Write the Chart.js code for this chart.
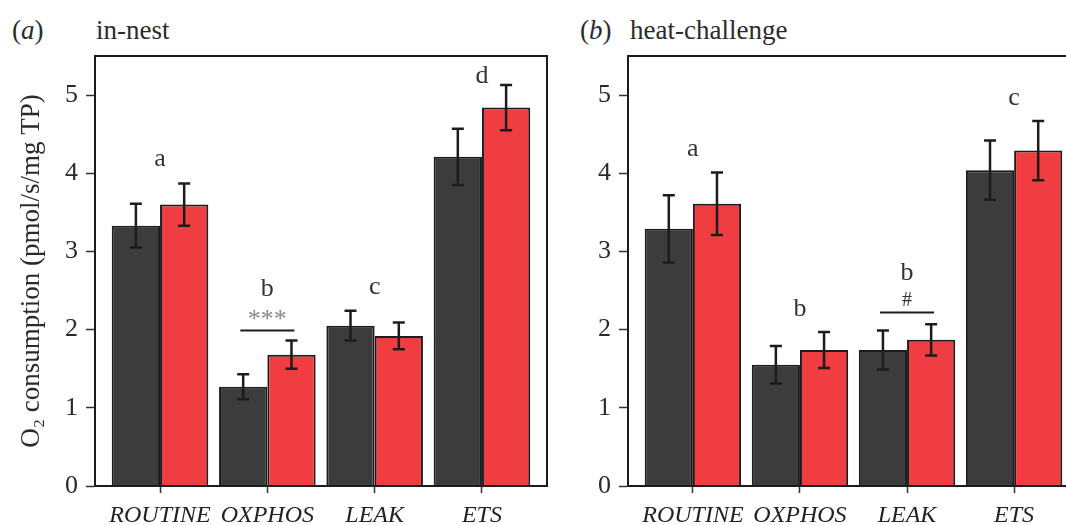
<!DOCTYPE html>
<html>
<head>
<meta charset="utf-8">
<title>O2 consumption</title>
<script src="https://cdn.jsdelivr.net/npm/chart.js@4.4.1/dist/chart.umd.min.js"></script>
<style>
  html, body { margin: 0; padding: 0; background: #fff; overflow: hidden; }
  body { width: 1066px; height: 525px; position: relative; font-family: "Liberation Serif", "DejaVu Serif", serif; color: #2b2b2b; }
  canvas { position: absolute; top: 0; }
  #chartA { left: 0; }
  #chartB { left: 560px; }
  .panel { position: absolute; top: 13px; font-size: 27px; line-height: 34px; white-space: nowrap; }
</style>
</head>
<body>
<div class="panel" style="left:12px">(<i>a</i>)</div>
<div class="panel" style="left:96px">in-nest</div>
<div class="panel" style="left:580px">(<i>b</i>)</div>
<div class="panel" style="left:630px">heat-challenge</div>
<canvas id="chartA" width="560" height="525"></canvas>
<canvas id="chartB" width="540" height="525"></canvas>
<script>
const categories = ['ROUTINE', 'OXPHOS', 'LEAK', 'ETS'];
const yTicks = [0, 1, 2, 3, 4, 5];

// (a) in-nest
const inNestDark = [3.33, 1.27, 2.05, 4.21];
const inNestDarkErr = [0.28, 0.16, 0.19, 0.36];
const inNestRed = [3.60, 1.68, 1.92, 4.84];
const inNestRedErr = [0.27, 0.18, 0.17, 0.29];
const inNestLetters = ['a', 'b', 'c', 'd'];
const inNestLetterY = [4.09, 2.43, 2.45, 5.16];
const inNestSig = { cat: 1, mark: '***', y: 1.99 };

// (b) heat-challenge
const heatDark = [3.29, 1.55, 1.74, 4.04];
const heatDarkErr = [0.43, 0.24, 0.25, 0.38];
const heatRed = [3.61, 1.74, 1.87, 4.29];
const heatRedErr = [0.40, 0.23, 0.20, 0.38];
const heatLetters = ['a', 'b', 'b', 'c'];
const heatLetterY = [4.22, 2.17, 2.63, 4.87];
const heatSig = { cat: 2, mark: '#', y: 2.22 };

const serif = '"Liberation Serif", "DejaVu Serif", serif';
const DARK = '#3c3c3c';
const RED = '#ef3d42';
const INK = '#1c1c1c';

// error bars, frame and letters
const extras = {
  id: 'extras',
  afterDatasetsDraw(chart, args, opts) {
    const ctx = chart.ctx;
    const ys = chart.scales.y, xs = chart.scales.x;
    const a = chart.chartArea;
    ctx.save();
    ctx.strokeStyle = INK;
    ctx.lineWidth = 2.5;
    opts.errs.forEach((errs, di) => {
      const meta = chart.getDatasetMeta(di);
      meta.data.forEach((bar, i) => {
        const v = chart.data.datasets[di].data[i].y;
        const top = ys.getPixelForValue(v + errs[i]);
        const bot = ys.getPixelForValue(v - errs[i]);
        ctx.beginPath();
        ctx.moveTo(bar.x, top); ctx.lineTo(bar.x, bot);
        ctx.moveTo(bar.x - 6, top); ctx.lineTo(bar.x + 6, top);
        ctx.moveTo(bar.x - 6, bot); ctx.lineTo(bar.x + 6, bot);
        ctx.stroke();
      });
    });
    // frame
    ctx.lineWidth = 2;
    ctx.strokeRect(a.left, a.top, a.right - a.left, a.bottom - a.top);
    // group letters
    ctx.fillStyle = '#333';
    ctx.font = '26px ' + serif;
    ctx.textAlign = 'center';
    ctx.textBaseline = 'alphabetic';
    opts.letters.forEach((t, i) => {
      ctx.fillText(t, xs.getPixelForValue(i), ys.getPixelForValue(opts.letterY[i]));
    });
    // significance bar
    const s = opts.sig;
    const cx = xs.getPixelForValue(s.cat);
    const ly = ys.getPixelForValue(s.y);
    ctx.lineWidth = 2;
    ctx.beginPath();
    ctx.moveTo(cx - 27, ly); ctx.lineTo(cx + 27, ly);
    ctx.stroke();
    if (s.mark === '***') {
      ctx.fillStyle = '#8a8a8a';
      ctx.font = '26px ' + serif;
      ctx.fillText(s.mark, cx, ly - 3);
    } else {
      ctx.fillStyle = '#333';
      ctx.font = '20px ' + serif;
      ctx.fillText(s.mark, cx, ly - 6);
    }
    ctx.restore();
  }
};

function makeChart(id, dark, darkErr, red, redErr, letters, letterY, sig, yWidth, padRight, showTitle) {
  return new Chart(document.getElementById(id), {
    type: 'bar',
    data: {
      datasets: [
        { label: 'Group 1', data: dark.map((v, i) => ({ x: i, y: v })), backgroundColor: DARK },
        { label: 'Group 2', data: red.map((v, i) => ({ x: i, y: v })), backgroundColor: RED }
      ]
    },
    options: {
      responsive: false,
      animation: false,
      devicePixelRatio: 1,
      layout: { padding: { top: 56, right: padRight, bottom: 0, left: 0 } },
      datasets: {
        bar: { borderColor: INK, borderWidth: 2, categoryPercentage: 0.9, barPercentage: 1.0 }
      },
      plugins: {
        legend: { display: false },
        tooltip: { enabled: false },
        extras: { errs: [darkErr, redErr], letters, letterY, sig }
      },
      scales: {
        x: {
          type: 'linear', min: -0.606, max: 3.606, offset: false,
          afterBuildTicks: s => { s.ticks = categories.map((c, i) => ({ value: i })); },
          afterFit: s => { s.height = 39; },
          grid: { drawOnChartArea: false, drawTicks: true, tickLength: 7, tickWidth: 1.5, tickColor: '#333', offset: false },
          border: { color: INK, width: 2 },
          ticks: {
            callback: v => categories[v],
            font: { family: serif, size: 24, style: 'italic' },
            color: '#222', padding: 8, maxRotation: 0, autoSkip: false
          }
        },
        y: {
          min: 0, max: 5.5,
          afterBuildTicks: s => { s.ticks = yTicks.map(v => ({ value: v })); },
          afterFit: s => { s.width = yWidth; },
          grid: { drawOnChartArea: false, tickLength: 9, tickWidth: 1.5, tickColor: '#333' },
          border: { color: INK, width: 2 },
          ticks: { font: { family: serif, size: 26 }, color: '#2a2a2a', padding: 8 },
          title: {
            display: showTitle, text: 'O₂ consumption (pmol/s/mg TP)',
            font: { family: serif, size: 27 }, color: '#2a2a2a', padding: { top: 16, bottom: 0 }
          }
        }
      }
    },
    plugins: [extras]
  });
}

makeChart('chartA', inNestDark, inNestDarkErr, inNestRed, inNestRedErr,
  inNestLetters, inNestLetterY, inNestSig, 95, 13, true);
makeChart('chartB', heatDark, heatDarkErr, heatRed, heatRedErr,
  heatLetters, heatLetterY, heatSig, 68, 21, false);
</script>
</body>
</html>
